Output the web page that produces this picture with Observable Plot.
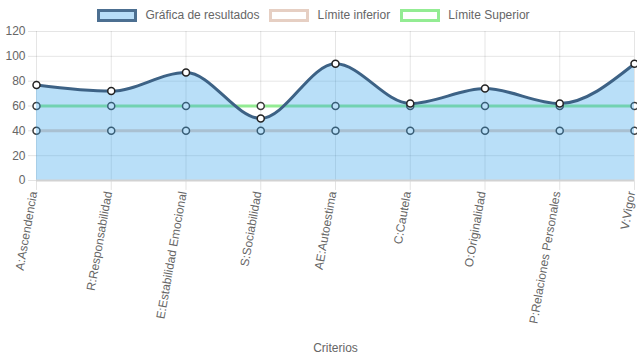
<!DOCTYPE html>
<html>
<head>
<meta charset="utf-8">
<script src="https://cdn.jsdelivr.net/npm/d3@7"></script>
<script src="https://cdn.jsdelivr.net/npm/@observablehq/plot@0.6"></script>
<style>
  html, body { margin: 0; padding: 0; background: #fff; }
  body { width: 637px; height: 359px; overflow: hidden; font-family: "Liberation Sans", Arial, sans-serif; }
  #legend { height: 24px; display: flex; justify-content: center; align-items: center; padding-top: 6px; box-sizing: border-box; padding-right: 10px; font-size: 12px; color: #666; }
  .item { display: flex; align-items: center; margin: 0 5px; }
  .box { width: 34px; height: 7px; border-width: 3px; border-style: solid; margin-right: 8px; }
</style>
</head>
<body>
<div id="legend"></div>
<div id="chart"></div>
<script>
const categorias = ["A:Ascendencia", "R:Responsabilidad", "E:Estabilidad Emocional", "S:Sociabilidad", "AE:Autoestima", "C:Cautela", "O:Originalidad", "P:Relaciones Personales", "V:Vigor"];
const resultados = [77, 72, 87, 50, 94, 62, 74, 62, 94];
const limiteInferior = [40, 40, 40, 40, 40, 40, 40, 40, 40];
const limiteSuperior = [60, 60, 60, 60, 60, 60, 60, 60, 60];
const yTicks = [0, 20, 40, 60, 80, 100, 120];
const series = ["Gráfica de resultados", "Límite inferior", "Límite Superior"];

const legendStyles = [
  {bg: "#b9def8", border: "#4c6f91"},
  {bg: "#ffffff", border: "#e6cfc3"},
  {bg: "#ffffff", border: "#93ec93"}
];
const legend = document.getElementById("legend");
series.forEach((s, i) => {
  const it = document.createElement("div");
  it.className = "item";
  const b = document.createElement("div");
  b.className = "box";
  b.style.background = legendStyles[i].bg;
  b.style.borderColor = legendStyles[i].border;
  const t = document.createElement("span");
  t.textContent = s;
  it.appendChild(b); it.appendChild(t);
  legend.appendChild(it);
});

const res = categorias.map((c, i) => ({c, v: resultados[i]}));
const inf = categorias.map((c, i) => ({c, v: limiteInferior[i]}));
const sup = categorias.map((c, i) => ({c, v: limiteSuperior[i]}));

const chart = Plot.plot({
  width: 637,
  height: 335,
  marginTop: 7,
  marginBottom: 179,
  marginLeft: 36,
  marginRight: 3,
  style: {fontFamily: "Liberation Sans, Arial, sans-serif", fontSize: "12px", color: "#666", background: "#fff"},
  x: {type: "point", domain: categorias, padding: 0, round: false, label: null},
  y: {domain: [0, 120], label: null},
  marks: [
    Plot.gridY(yTicks, {stroke: "#000", strokeOpacity: 0.1}),
    Plot.gridX(categorias, {stroke: "#000", strokeOpacity: 0.1}),
    Plot.ruleX(categorias, {x: d => d, y1: 0, y2: -8, stroke: "#e3e3e3"}),
    Plot.axisY(yTicks, {tickSize: 8, tickPadding: 3, stroke: "#e3e3e3", strokeOpacity: 1, fill: "#666", label: null}),
    Plot.axisX(categorias, {tickSize: 0, tickPadding: 11, tickRotate: -80, dx: -3, fill: "#666", label: null}),
    Plot.lineY(sup, {x: "c", y: "v", stroke: "#93ec93", strokeWidth: 3}),
    Plot.lineY(inf, {x: "c", y: "v", stroke: "#e6cfc3", strokeWidth: 3}),
    Plot.dot(sup, {x: "c", y: "v", r: 3.5, fill: "#fff", stroke: "#3a3a3a", strokeWidth: 1.5}),
    Plot.dot(inf, {x: "c", y: "v", r: 3.5, fill: "#fff", stroke: "#3a3a3a", strokeWidth: 1.5}),
    Plot.areaY(res, {x: "c", y: "v", curve: "monotone-x", fill: "rgb(54,162,235)", fillOpacity: 0.35}),
    Plot.ruleY([0], {stroke: "#d2d2d2", strokeWidth: 2}),
    Plot.lineY(res, {x: "c", y: "v", curve: "monotone-x", stroke: "#3d6285", strokeWidth: 3}),
    Plot.dot(res, {x: "c", y: "v", r: 3.5, fill: "#fff", stroke: "#222", strokeWidth: 1.5}),
    Plot.text(["Criterios"], {frameAnchor: "bottom", dy: 171, fill: "#666", fontSize: 12})
  ]
});
document.getElementById("chart").appendChild(chart);
</script>
</body>
</html>
